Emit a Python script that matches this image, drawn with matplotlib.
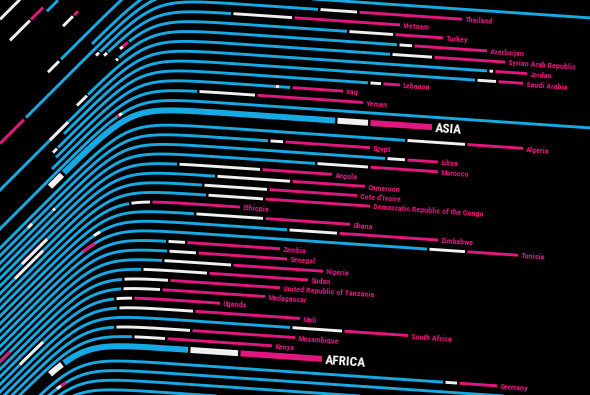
import numpy as np
import matplotlib
matplotlib.use("Agg")
import matplotlib.pyplot as plt
from matplotlib import font_manager

# rows from top to bottom: label, x where the line starts, end of blue, end of white, end of pink
names = ["", "Thailand", "Vietnam", "Turkey", "Azerbaijan", "Syrian Arab Republic", "Jordan",
         "Saudi Arabia", "Lebanon", "Iraq", "Yemen", "", "ASIA",
         "Algeria", "Egypt", "Libya", "Morocco", "Angola", "Cameroon", "Cote d'Ivoire",
         "Democratic Republic of the Congo", "Ethiopia", "Ghana", "Zimbabwe", "Tunisia",
         "Zambia", "Senegal", "Nigeria", "Sudan", "United Republic of Tanzania", "Madagascar",
         "Uganda", "Mali", "South Africa", "Mozambique", "Kenya", "AFRICA",
         "Germany", "", "", ""]
line_start = [26, 100, 108, 129, 119, 88, -20, 64, 58, 56, 52, -20, 64,
              -20, -20, -20, -20, -20, -20, -20, -20, -20, -20, -20, -20,
              -20, -20, -20, -20, -20, -20, -20, -20, -20, -20, -20, 64,
              -20, -20, -20, -20]
blue_end = [700, 318, 231, 347, 397, 390, 487, 475, 368, 290, 197, 700, 335,
            405, 268, 385, 315, 177, 215, 202, 206, 129, 194, 287, 427,
            166, 167, 162, 141, 122, 121, 114, 117, 290, 114, 132, 188,
            443, 700, 700, 700]
white_end = [700, 357, 292, 393, 412, 432, 493, 496, 381, 290, 255, 700, 368,
             465, 283, 405, 368, 260, 290, 267, 263, 150, 263, 337, 465,
             185, 196, 231, 207, 168, 160, 132, 193, 342, 190, 165, 238,
             457, 700, 700, 700]
pink_end = [700, 462, 400, 443, 487, 505, 527, 523, 400, 343, 363, 700, 432,
            523, 370, 438, 438, 332, 365, 357, 370, 240, 350, 438, 518,
            280, 287, 323, 308, 280, 265, 220, 300, 408, 295, 272, 322,
            497, 700, 700, 700]
regions = ["ASIA", "AFRICA"]

# loose pieces along the curves (row index, may be above the first row; x from, x to, colour)
frag_row = [0, -16, -12, -12, -11, -7, -7, -3, -3, -1, 1, 2, 3, 3, 4, 11, 11, 5, 6, 12, 36,
            8, 15, 14, 18, 19, 31, 28, 24, 23, 38, 38, 9]
frag_x0 = [0, 0, 10, 31, 47, 63, 74, 48, 61, 92, 96, 104, 120, 123, 116, 117, 119, 77, 50, 50, 50,
           53, 53, 28, 22, 15, 20, 0, 83, 94, 57, 61, 276]
frag_x1 = [24, 20, 30, 43, 58, 73, 78, 59, 250, 250, 99, 107, 123, 128, 118, 119, 122, 87, 68, 62, 62,
           57, 55, 32, 47, 43, 43, 10, 95, 100, 61, 66, 279]
frag_col = ["pink", "white", "white", "pink", "blue", "white", "pink", "white", "blue", "blue",
            "white", "white", "white", "pink", "white", "pink", "white", "white", "white", "white", "white",
            "white", "white", "white", "white", "white", "white", "pink", "pink", "white", "white",
            "pink", "white"]

COL = {"blue": "#16a9e3", "white": "#f0f0f0", "pink": "#e2167f"}

# pick a narrow font if one is installed
have = {f.name for f in font_manager.fontManager.ttflist}
font = next((f for f in ["Roboto Condensed", "Liberation Sans Narrow", "DejaVu Sans Condensed",
                         "Open Sans Condensed", "Roboto"] if f in have), "DejaVu Sans")

# vertical position of each row's flat part
iasia = names.index("ASIA")
Y = [0.0]
for i in range(1, len(names)):
    if names[i - 1] in regions:
        g = 15
    elif i <= iasia:
        g = 10
    else:
        g = 9.75
    Y.append(Y[-1] + g)
Y = np.array(Y) - Y[iasia] + 110

SLOPE = 0.068


def curve(x, y0):
    c = 130 - 0.21 * (y0 - 110)
    w = 15
    return y0 + SLOPE * (x - 180) + 1.068 * w * np.logaddexp(0, (c - x) / w)


def row_y(r):
    if r >= 0:
        return Y[r]
    return Y[0] + 10 * r


fig = plt.figure(figsize=(5.9, 3.95), dpi=100, facecolor="black")
ax = fig.add_axes([0, 0, 1, 1])
ax.set_facecolor("black")
ax.set_xlim(0, 590)
ax.set_ylim(395, 0)
ax.axis("off")

gap = 2.5


def seg(y0, x0, x1, color, lw):
    if x1 - x0 <= 0.3:
        return
    xs = np.linspace(x0, x1, 120)
    ax.plot(xs, curve(xs, y0), color=color, lw=lw, solid_capstyle="butt")


for i, name in enumerate(names):
    thick = name in regions
    lw = 4.3 if thick else 2.1
    seg(Y[i], line_start[i], blue_end[i], COL["blue"], lw)
    seg(Y[i], blue_end[i] + gap, white_end[i], COL["white"], lw)
    p0 = (white_end[i] + gap) if white_end[i] > blue_end[i] else (blue_end[i] + gap)
    seg(Y[i], p0, pink_end[i], COL["pink"], lw)
    if name:
        xl = pink_end[i] + 3
        if thick:
            ax.text(xl, curve(xl, Y[i]) + 1, name, color="white", fontsize=9.6, fontweight="bold",
                    family=font, rotation=-3.9, rotation_mode="anchor", ha="left", va="center")
        else:
            ax.text(xl, curve(xl, Y[i]) + 0.5, name, color=COL["pink"], fontsize=5.9, fontweight="bold",
                    family=font, rotation=-3.9, rotation_mode="anchor", ha="left", va="center")

for r, x0, x1, c in zip(frag_row, frag_x0, frag_x1, frag_col):
    lw = 4.3 if (r >= 0 and names[r] in regions) else 2.1
    seg(row_y(r), x0, x1, COL[c], lw)

fig.savefig("out.png", dpi=100, facecolor="black")
